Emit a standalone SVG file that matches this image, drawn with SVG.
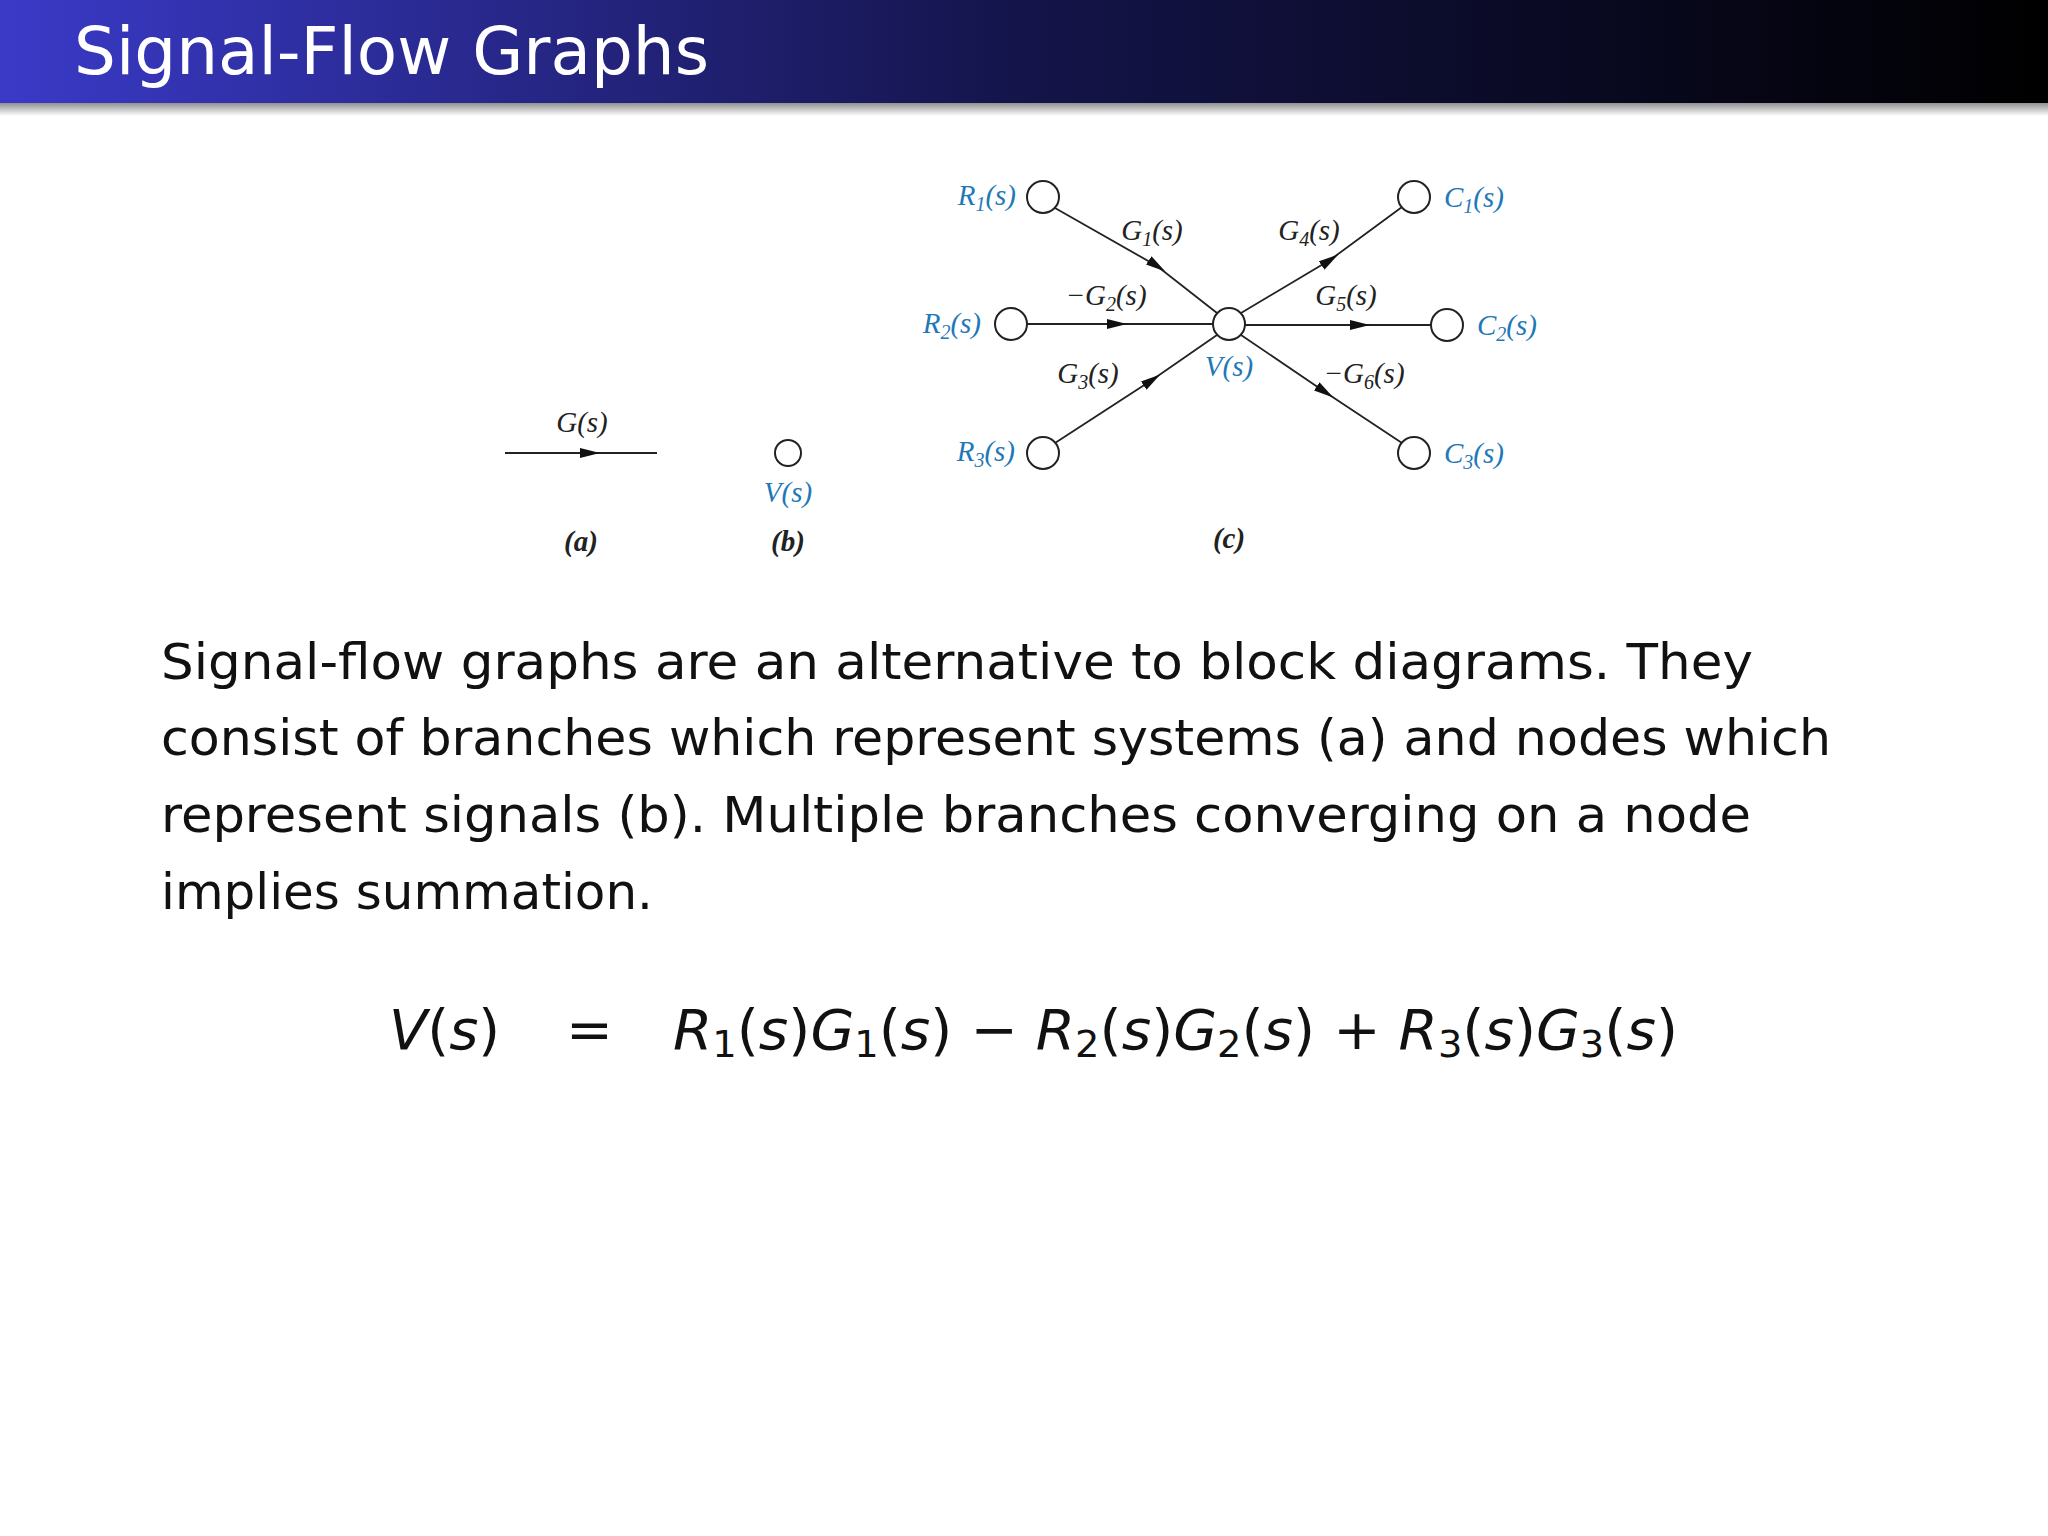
<svg xmlns="http://www.w3.org/2000/svg" width="2048" height="1536" viewBox="0 0 2048 1536">
<defs>
<linearGradient id="bar" x1="0" x2="1" y1="0" y2="0"><stop offset="0" stop-color="#3a3ac8"/><stop offset="0.5" stop-color="#14144a"/><stop offset="1" stop-color="#000"/></linearGradient>
<linearGradient id="sh" x1="0" x2="0" y1="0" y2="1"><stop offset="0" stop-color="#888"/><stop offset="1" stop-color="#fff"/></linearGradient>
<marker id="ar" viewBox="0 0 20 10" refX="10" refY="5" markerWidth="20" markerHeight="10" markerUnits="userSpaceOnUse" orient="auto"><path d="M0,0 L20,5 L0,10 Z" fill="#111"/></marker>
</defs>
<style>
.n{fill:#fff;stroke:#222;stroke-width:2}
.e{stroke:#222;stroke-width:1.8;fill:none;marker-mid:url(#ar)}
.g{font-family:"Liberation Serif",serif;font-style:italic;font-size:29px;fill:#222}
.b{fill:#1f78b8}
.s{font-size:20px}
.body{font-family:"DejaVu Sans","Liberation Sans",sans-serif;font-size:50px;fill:#111}
.eq{font-family:"DejaVu Sans",sans-serif;font-size:56px;fill:#111}
</style>
<rect width="2048" height="1536" fill="#fff"/>
<rect x="0" y="102" width="2048" height="14" fill="url(#sh)"/>
<rect x="0" y="0" width="2048" height="103" fill="url(#bar)"/>
<text x="74" y="74" font-family="DejaVu Sans,sans-serif" font-size="66" fill="#fff">Signal-Flow Graphs</text>

<g id="connectors">
<path class="e" d="M1055,208 L1157,266 L1217,313"/>
<path class="e" d="M1027,324 L1117,324 L1213,324"/>
<path class="e" d="M1055,443 L1152,380 L1217,335"/>
<path class="e" d="M1241,313 L1330,260 L1402,207"/>
<path class="e" d="M1245,325 L1360,325 L1431,325"/>
<path class="e" d="M1241,335 L1325,392 L1402,443"/>
<path class="e" d="M505,453 L590,453 L657,453"/>
</g>
<g id="a"><text class="g" x="582" y="432" text-anchor="middle">G(s)</text><text class="g" x="581" y="551" text-anchor="middle" font-weight="bold">(a)</text></g>
<g id="b"><circle class="n" cx="788" cy="453" r="13"/><text class="g b" x="788" y="502" text-anchor="middle">V(s)</text><text class="g" x="788" y="551" text-anchor="middle" font-weight="bold">(b)</text></g>
<g id="V"><circle class="n" cx="1229" cy="324" r="16"/><text class="g b" x="1229" y="376" text-anchor="middle">V(s)</text></g>
<g id="R1"><circle class="n" cx="1043" cy="197" r="16"/><text class="g b" x="1016" y="205" text-anchor="end">R<tspan class="s" dy="6">1</tspan><tspan dy="-6">(s)</tspan></text></g>
<g id="R2"><circle class="n" cx="1011" cy="324" r="16"/><text class="g b" x="981" y="333" text-anchor="end">R<tspan class="s" dy="6">2</tspan><tspan dy="-6">(s)</tspan></text></g>
<g id="R3"><circle class="n" cx="1043" cy="453" r="16"/><text class="g b" x="1015" y="461" text-anchor="end">R<tspan class="s" dy="6">3</tspan><tspan dy="-6">(s)</tspan></text></g>
<g id="C1"><circle class="n" cx="1414" cy="197" r="16"/><text class="g b" x="1444" y="207">C<tspan class="s" dy="6">1</tspan><tspan dy="-6">(s)</tspan></text></g>
<g id="C2"><circle class="n" cx="1447" cy="325" r="16"/><text class="g b" x="1477" y="335">C<tspan class="s" dy="6">2</tspan><tspan dy="-6">(s)</tspan></text></g>
<g id="C3"><circle class="n" cx="1414" cy="453" r="16"/><text class="g b" x="1444" y="463">C<tspan class="s" dy="6">3</tspan><tspan dy="-6">(s)</tspan></text></g>
<g id="labels">
<text class="g" x="1152" y="240" text-anchor="middle">G<tspan class="s" dy="6">1</tspan><tspan dy="-6">(s)</tspan></text>
<text class="g" x="1309" y="240" text-anchor="middle">G<tspan class="s" dy="6">4</tspan><tspan dy="-6">(s)</tspan></text>
<text class="g" x="1106" y="305" text-anchor="middle">−G<tspan class="s" dy="6">2</tspan><tspan dy="-6">(s)</tspan></text>
<text class="g" x="1346" y="305" text-anchor="middle">G<tspan class="s" dy="6">5</tspan><tspan dy="-6">(s)</tspan></text>
<text class="g" x="1088" y="383" text-anchor="middle">G<tspan class="s" dy="6">3</tspan><tspan dy="-6">(s)</tspan></text>
<text class="g" x="1364" y="383" text-anchor="middle">−G<tspan class="s" dy="6">6</tspan><tspan dy="-6">(s)</tspan></text>
<text class="g" x="1229" y="548" text-anchor="middle" font-weight="bold">(c)</text>
</g>
<g id="body">
<text class="body" x="161" y="679" textLength="1592" lengthAdjust="spacingAndGlyphs">Signal-flow graphs are an alternative to block diagrams.  They</text>
<text class="body" x="161" y="755" textLength="1670" lengthAdjust="spacingAndGlyphs">consist of branches which represent systems (a) and nodes which</text>
<text class="body" x="161" y="832" textLength="1590" lengthAdjust="spacingAndGlyphs">represent signals (b).  Multiple branches converging on a node</text>
<text class="body" x="161" y="909" textLength="492" lengthAdjust="spacingAndGlyphs">implies summation.</text>
</g>
<g id="eq">
<text class="eq" x="389" y="1049" font-style="italic">V<tspan font-style="normal">(</tspan>s<tspan font-style="normal">)</tspan></text>
<text class="eq" x="566" y="1049">=</text>
<text class="eq" x="673" y="1049" textLength="1005" lengthAdjust="spacingAndGlyphs"><tspan font-style="italic">R</tspan><tspan font-size="38" dy="8">1</tspan><tspan dy="-8">(</tspan><tspan font-style="italic">s</tspan>)<tspan font-style="italic">G</tspan><tspan font-size="38" dy="8">1</tspan><tspan dy="-8">(</tspan><tspan font-style="italic">s</tspan>) − <tspan font-style="italic">R</tspan><tspan font-size="38" dy="8">2</tspan><tspan dy="-8">(</tspan><tspan font-style="italic">s</tspan>)<tspan font-style="italic">G</tspan><tspan font-size="38" dy="8">2</tspan><tspan dy="-8">(</tspan><tspan font-style="italic">s</tspan>) + <tspan font-style="italic">R</tspan><tspan font-size="38" dy="8">3</tspan><tspan dy="-8">(</tspan><tspan font-style="italic">s</tspan>)<tspan font-style="italic">G</tspan><tspan font-size="38" dy="8">3</tspan><tspan dy="-8">(</tspan><tspan font-style="italic">s</tspan>)</text>
</g>
</svg>
